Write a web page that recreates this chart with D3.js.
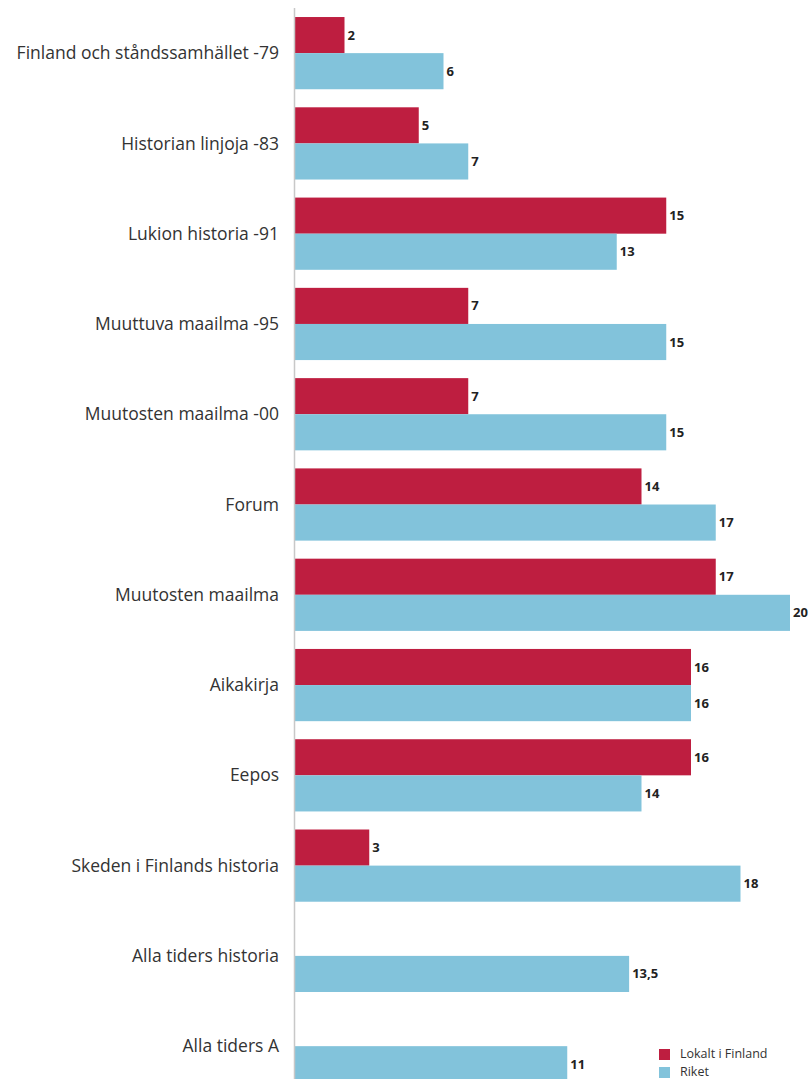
<!DOCTYPE html>
<html><head><meta charset="utf-8">
<script src="https://cdn.jsdelivr.net/npm/d3@7"></script>
<style>body{margin:0;background:#fff}svg{display:block}</style>
</head><body>
<svg id="c" width="812" height="1079"></svg>
<script>
const categories = ["Finland och ståndssamhället -79","Historian linjoja -83","Lukion historia -91","Muuttuva maailma -95","Muutosten maailma -00","Forum","Muutosten maailma","Aikakirja","Eepos","Skeden i Finlands historia","Alla tiders historia","Alla tiders A"];
const lokalt = [2,5,15,7,7,14,17,16,16,3,null,null];
const riket = [6,7,13,15,15,17,20,16,14,18,13.5,11];
const seriesNames = ["Lokalt i Finland","Riket"];
const colors = ["#BE1E40","#82C3DB"];

const svg = d3.select("#c");
const x = d3.scaleLinear().domain([0,20]).range([295,790]);
const y = d3.scaleBand().domain(categories).range([8,1091.3]).paddingInner(0.2).paddingOuter(0.1);
const sub = d3.scaleBand().domain([0,1]).range([0,y.bandwidth()]);
const fmt = v => String(v).replace(".", ",");

const g = svg.append("g");
categories.forEach((c,i)=>{
  [lokalt[i], riket[i]].forEach((v,s)=>{
    if(v==null) return;
    const yy = y(c)+sub(s);
    g.append("rect").attr("x",x(0)).attr("y",yy).attr("width",x(v)-x(0)).attr("height",sub.bandwidth()).attr("fill",colors[s]);
    g.append("text").attr("x",x(v)+3).attr("y",yy+sub.bandwidth()/2).attr("dy","0.35em")
      .attr("font-family","Open Sans, sans-serif").attr("font-weight","bold").attr("font-size",13).attr("fill","#222").text(fmt(v));
  });
  g.append("text").attr("x",279).attr("y",y(c)+y.bandwidth()/2).attr("dy","0.35em").attr("text-anchor","end")
    .attr("font-family","Open Sans, sans-serif").attr("font-size",17.5).attr("fill","#333").text(c);
});
svg.append("line").attr("x1",294.5).attr("x2",294.5).attr("y1",8).attr("y2",1079).attr("stroke","#c8c8c8").attr("stroke-width",1.5);

const lg = svg.append("g");
seriesNames.forEach((n,i)=>{
  lg.append("rect").attr("x",659).attr("y",1049+i*18).attr("width",11).attr("height",11).attr("fill",colors[i]);
  lg.append("text").attr("x",680).attr("y",1054+i*17.5).attr("dy","0.35em").attr("font-family","Open Sans, sans-serif").attr("font-size",12.5).attr("fill","#333").text(n);
});
</script>
</body></html>
